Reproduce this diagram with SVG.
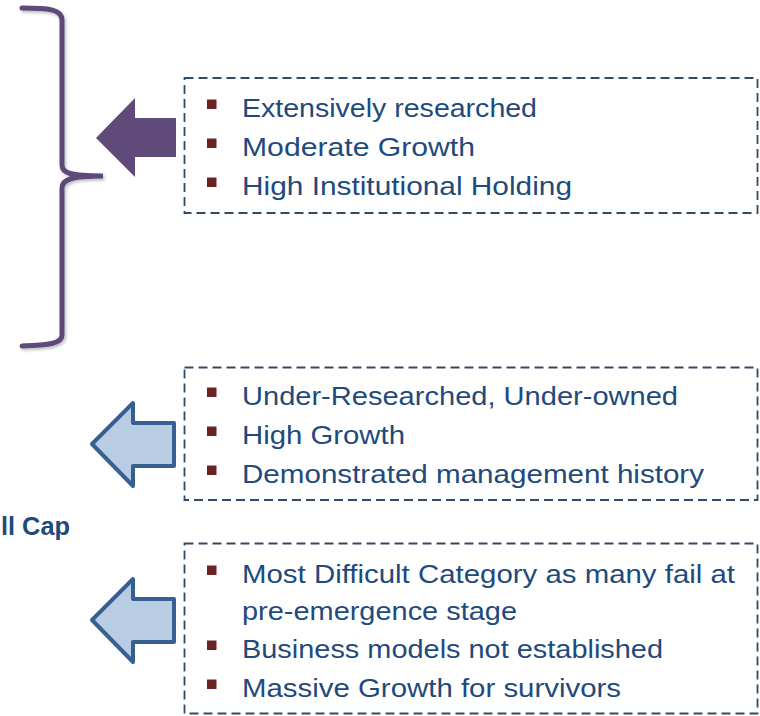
<svg xmlns="http://www.w3.org/2000/svg" width="760" height="716" viewBox="0 0 760 716">
<style>
.box{fill:none;stroke:#2f4a6a;stroke-width:1.8;stroke-dasharray:9 5}
.t{font-family:"Liberation Sans",Arial,sans-serif;font-size:25px;fill:#1f4a7c}
.b{fill:#6b2222}
.blue{fill:#b8cce4;stroke:#376092;stroke-width:4;stroke-linejoin:round}
.lbl{font-family:"Liberation Sans",Arial,sans-serif;font-size:25px;font-weight:bold;fill:#1f4a7c}
</style>
<defs>
<filter id="sh" x="-20%" y="-5%" width="140%" height="110%">
<feDropShadow dx="1.5" dy="2" stdDeviation="1.5" flood-color="#000" flood-opacity="0.25"/>
</filter>
</defs>
<g id="brace">
<path d="M22,8 C48,8 62,9 62,20 L62,165 C62,173 70,176 103,176 C70,176 62,180 62,188 L62,335 C62,344 48,345 22,346" fill="none" stroke="#5f4a7a" stroke-width="5" stroke-linecap="round" filter="url(#sh)"/>
</g>
<g id="connectors">
<polygon id="arrow1" points="96,138 135,98 135,118 176,118 176,157 135,157 135,177" fill="#5f4a7a"/>
<polygon id="arrow2" class="blue" points="92,444 133,403 133,423 174,423 174,466 133,466 133,486"/>
<polygon id="arrow3" class="blue" points="92,620 133,579 133,599 174,599 174,642 133,642 133,662"/>
</g>
<g id="box1">
<rect class="box" x="184.5" y="78" width="573" height="135"/>
<rect class="b" x="207" y="99.5" width="9.5" height="9.5"/>
<text class="t" x="242" y="117" textLength="295" lengthAdjust="spacingAndGlyphs">Extensively researched</text>
<rect class="b" x="207" y="138.5" width="9.5" height="9.5"/>
<text class="t" x="242" y="156" textLength="233" lengthAdjust="spacingAndGlyphs">Moderate Growth</text>
<rect class="b" x="207" y="177.5" width="9.5" height="9.5"/>
<text class="t" x="242" y="195" textLength="330" lengthAdjust="spacingAndGlyphs">High Institutional Holding</text>
</g>
<g id="box2">
<rect class="box" x="184.5" y="367.5" width="573" height="132.5"/>
<rect class="b" x="207" y="387.5" width="9.5" height="9.5"/>
<text class="t" x="242" y="405" textLength="436" lengthAdjust="spacingAndGlyphs">Under-Researched, Under-owned</text>
<rect class="b" x="207" y="426.5" width="9.5" height="9.5"/>
<text class="t" x="242" y="444" textLength="163" lengthAdjust="spacingAndGlyphs">High Growth</text>
<rect class="b" x="207" y="465.5" width="9.5" height="9.5"/>
<text class="t" x="242" y="483" textLength="462" lengthAdjust="spacingAndGlyphs">Demonstrated management history</text>
</g>
<g id="label">
<text class="lbl" x="1" y="535" textLength="69" lengthAdjust="spacingAndGlyphs">ll Cap</text>
</g>
<g id="box3">
<rect class="box" x="184.5" y="543.5" width="573" height="170"/>
<rect class="b" x="207" y="565.5" width="9.5" height="9.5"/>
<text class="t" x="242" y="583" textLength="493" lengthAdjust="spacingAndGlyphs">Most Difficult Category as many fail at</text>
<text class="t" x="242" y="620" textLength="275" lengthAdjust="spacingAndGlyphs">pre-emergence stage</text>
<rect class="b" x="207" y="640.5" width="9.5" height="9.5"/>
<text class="t" x="242" y="658" textLength="421" lengthAdjust="spacingAndGlyphs">Business models not established</text>
<rect class="b" x="207" y="679.5" width="9.5" height="9.5"/>
<text class="t" x="242" y="697" textLength="379" lengthAdjust="spacingAndGlyphs">Massive Growth for survivors</text>
</g>
</svg>
